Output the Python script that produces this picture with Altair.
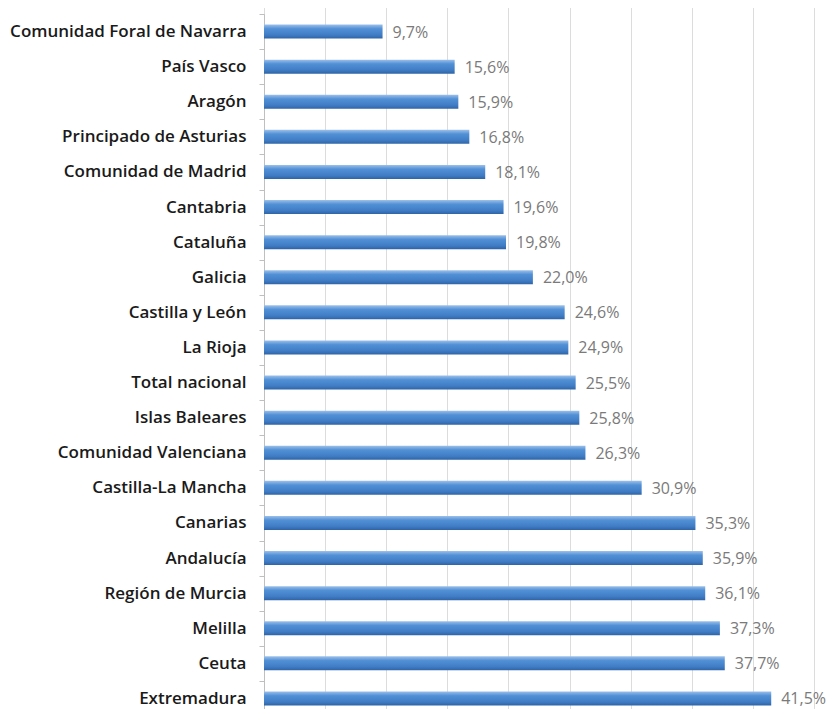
import altair as alt
import pandas as pd

regions = [
    "Comunidad Foral de Navarra", "País Vasco", "Aragón", "Principado de Asturias",
    "Comunidad de Madrid", "Cantabria", "Cataluña", "Galicia", "Castilla y León",
    "La Rioja", "Total nacional", "Islas Baleares", "Comunidad Valenciana",
    "Castilla-La Mancha", "Canarias", "Andalucía", "Región de Murcia", "Melilla",
    "Ceuta", "Extremadura",
]
values = [9.7, 15.6, 15.9, 16.8, 18.1, 19.6, 19.8, 22.0, 24.6, 24.9,
          25.5, 25.8, 26.3, 30.9, 35.3, 35.9, 36.1, 37.3, 37.7, 41.5]
grid_values = [0, 5, 10, 15, 20, 25, 30, 35, 40, 45]

df = pd.DataFrame({"region": regions, "value": values})

grad = alt.Gradient(
    gradient="linear",
    x1=0, y1=0, x2=0, y2=1,
    stops=[
        alt.GradientStop(color="#9cc0ea", offset=0),
        alt.GradientStop(color="#5290d6", offset=0.3),
        alt.GradientStop(color="#3f7cc4", offset=0.75),
        alt.GradientStop(color="#2f64a6", offset=1),
    ],
)

y_enc = alt.Y(
    "region:N",
    sort=regions,
    scale=alt.Scale(range=[0, 702], paddingInner=0, paddingOuter=0),
    axis=alt.Axis(
        title=None,
        labelFont="Open Sans",
        labelFontSize=17,
        labelFontWeight=600,
        labelColor="#1a1a1a",
        labelPadding=13,
        tickSize=5,
        tickColor="#bfbfbf",
        tickBand="extent",
        domainColor="#bfbfbf",
        grid=False,
        labelLimit=400,
    ),
)

x_enc = alt.X(
    "value:Q",
    scale=alt.Scale(domain=[0, 45], nice=False),
    axis=alt.Axis(
        title=None, labels=False, ticks=False, domain=False,
        grid=True, gridColor="#dcdcdc", values=grid_values,
    ),
)

bars = alt.Chart(df).mark_bar(size=14, color=grad).encode(x=x_enc, y=y_enc)

labels = alt.Chart(df).transform_calculate(
    label="replace(format(datum.value, '.1f'), '.', ',') + '%'"
).mark_text(
    align="left", baseline="middle", dx=10, dy=1,
    font="Open Sans", fontSize=16, color="#7a7a7a",
).encode(x=x_enc, y=y_enc, text="label:N")

chart = (bars + labels).properties(
    width=550,
    height=695,
    autosize=alt.AutoSizeParams(type="none"),
    padding={"left": 256, "top": 6, "right": 13, "bottom": 0},
).configure_view(stroke=None)

chart.save("out.html", embed_options={"renderer": "svg", "actions": False})
